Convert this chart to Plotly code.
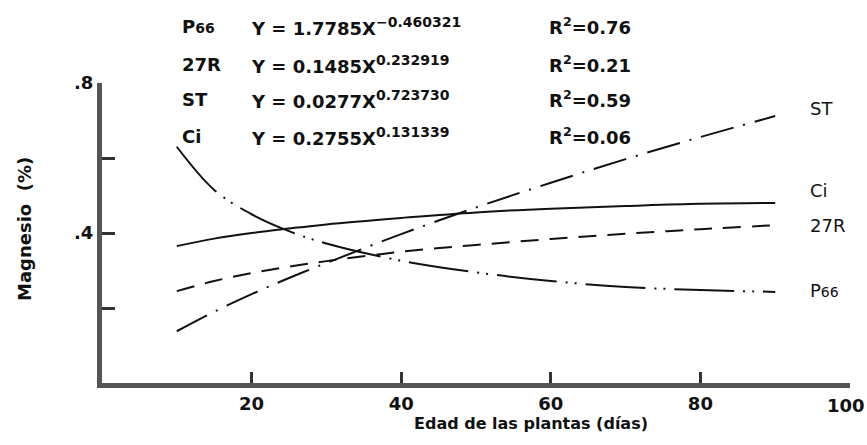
import plotly.graph_objects as go

# Plant age (days) at which each fitted curve is read
edad = [10, 15, 20, 25, 30, 40, 50, 60, 70, 80, 90]

# Magnesium content (%) for each variety
mg_p66 = [0.63, 0.515, 0.45, 0.405, 0.372, 0.326, 0.295, 0.272, 0.256, 0.248, 0.243]
mg_27r = [0.245, 0.272, 0.293, 0.31, 0.325, 0.35, 0.368, 0.384, 0.398, 0.41, 0.421]
mg_st = [0.138, 0.19, 0.237, 0.28, 0.32, 0.397, 0.468, 0.534, 0.597, 0.656, 0.712]
mg_ci = [0.365, 0.385, 0.40, 0.412, 0.423, 0.44, 0.455, 0.465, 0.472, 0.478, 0.48]

# Regression equations shown above the curves
var_labels = ["P<span style='font-size:14px'>66</span>", "27R", "ST", "Ci"]
coefs = ["1.7785", "0.1485", "0.0277", "0.2755"]
exps = ["−0.460321", "0.232919", "0.723730", "0.131339"]
r2_vals = ["0.76", "0.21", "0.59", "0.06"]

# End-of-line labels on the right
end_labels = ["ST", "Ci", "27R", "P<span style='font-size:14px'>66</span>"]

x_ticks = [20, 40, 60, 80, 100]
y_ticks = [0.2, 0.4, 0.6, 0.8]
y_ticktext = ["", ".4", "", ".8"]

W, H = 867, 445
L, R, T, B = 102, 17, 83, 62
PW, PH = W - L - R, H - T - B

FONT = "DejaVu Sans"
INK = "#111111"


def px(xp):
    return (xp - L) / PW


def py(yp):
    return (H - B - yp) / PH


fig = go.Figure()

series = [
    (mg_p66, "60px,9px,2px,7px,2px,9px"),
    (mg_27r, "18px,11px"),
    (mg_st, "34px,10px,2px,10px"),
    (mg_ci, "solid"),
]
for ys, dash in series:
    fig.add_trace(go.Scatter(
        x=edad, y=ys, mode="lines",
        line=dict(color=INK, width=2, dash=dash, shape="spline", smoothing=1.0),
        showlegend=False, hoverinfo="skip",
    ))

annotations = []
row_y = [26, 64, 99, 136]
for lab, c, e, r2, yy in zip(var_labels, coefs, exps, r2_vals, row_y):
    eq = f"Y = {c}X<sup><span style='font-size:14px'>{e}</span></sup>"
    r2t = f"R<sup>2</sup>={r2}"
    for txt, xx in ((lab, 180), (eq, 249), (r2t, 547)):
        annotations.append(dict(
            x=px(xx), y=py(yy), xref="paper", yref="paper",
            text=txt, showarrow=False, xanchor="left", yanchor="middle",
            font=dict(family=FONT, size=18, color=INK, weight="bold"),
        ))

for lab, yy in zip(end_labels, [108, 190, 225, 290]):
    annotations.append(dict(
        x=px(808), y=py(yy), xref="paper", yref="paper",
        text=lab, showarrow=False, xanchor="left", yanchor="middle",
        font=dict(family=FONT, size=18, color=INK),
    ))

# last x tick label sits against the right edge of the page
annotations.append(dict(
    x=x_ticks[-1], y=py(405), xref="x", yref="paper",
    text=str(x_ticks[-1]), showarrow=False, xanchor="center", yanchor="middle",
    xshift=-4,
    font=dict(family=FONT, size=18, color=INK, weight="bold"),
))

annotations.append(dict(
    x=px(531), y=py(423), xref="paper", yref="paper",
    text="Edad de las plantas (días)", showarrow=False,
    xanchor="center", yanchor="middle",
    font=dict(family=FONT, size=16, color=INK, weight="bold"),
))
annotations.append(dict(
    x=px(24), y=py(229), xref="paper", yref="paper",
    text="Magnesio  (%)", showarrow=False, textangle=-90,
    xanchor="center", yanchor="middle",
    font=dict(family=FONT, size=18, color=INK, weight="bold"),
))

fig.update_layout(
    width=W, height=H,
    margin=dict(l=L, r=R, t=T, b=B),
    paper_bgcolor="white", plot_bgcolor="white",
    annotations=annotations,
    xaxis=dict(
        range=[0, 100], tickvals=x_ticks,
        ticktext=[str(v) for v in x_ticks[:-1]] + [""],
        ticks="inside", ticklen=11, tickwidth=3, tickcolor="#333",
        showline=True, linewidth=5, linecolor="#555", mirror=False,
        showgrid=False, zeroline=False,
        tickfont=dict(family=FONT, size=18, color=INK, weight="bold"),
    ),
    yaxis=dict(
        range=[0, 0.8], tickvals=y_ticks, ticktext=y_ticktext,
        ticks="inside", ticklen=13, tickwidth=3, tickcolor="#333",
        showline=True, linewidth=5, linecolor="#555", mirror=False,
        showgrid=False, zeroline=False,
        tickfont=dict(family=FONT, size=18, color=INK, weight="bold"),
    ),
)

fig.write_html("out.html")
